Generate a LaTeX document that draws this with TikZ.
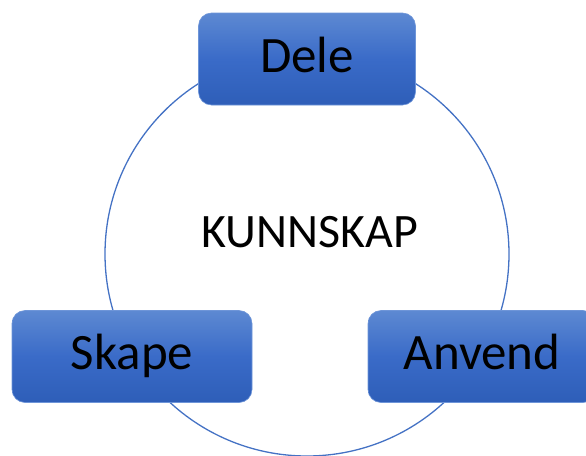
\documentclass[tikz,border=0pt]{standalone}
\usepackage{fontspec}
\setmainfont{Carlito}
\definecolor{ringblue}{HTML}{4472C4}
\definecolor{boxtop}{HTML}{5D89D2}
\definecolor{boxmid}{HTML}{3A6BC8}
\definecolor{boxbot}{HTML}{2E5EB8}
\definecolor{boxedge}{HTML}{6E95D8}
\tikzset{
  stagebox/.style={rounded corners=13pt, top color=boxtop, bottom color=boxbot,
    middle color=boxmid, draw=boxedge, line width=0.6pt,
    minimum height=92pt, text height=26pt, text depth=0pt,
    font=\fontsize{51}{60}\selectfont, text=black},
  ring/.style={draw=ringblue, line width=1.3pt},
  centre/.style={font=\fontsize{48}{56}\selectfont, text=black}
}
\begin{document}
\begin{tikzpicture}[x=1pt,y=-1pt]
  \useasboundingbox (0,0) rectangle (586,455);
  \clip (0,0) rectangle (586,455);
  % the ring of knowledge
  \node[ring, circle, minimum size=404pt, inner sep=0pt] (ring) at (307,254) {};
  \node[centre, anchor=base] (kunnskap) at (310,247) {KUNNSKAP};
  % the three stages on the ring
  \node[stagebox, minimum width=217pt] (dele) at (307,59) {Dele};
  \node[stagebox, minimum width=240pt] (skape) at (132,356.5) {Skape};
  \node[stagebox, minimum width=228pt] (anvend) at (482,356.5) {Anvend};
\end{tikzpicture}
\end{document}
